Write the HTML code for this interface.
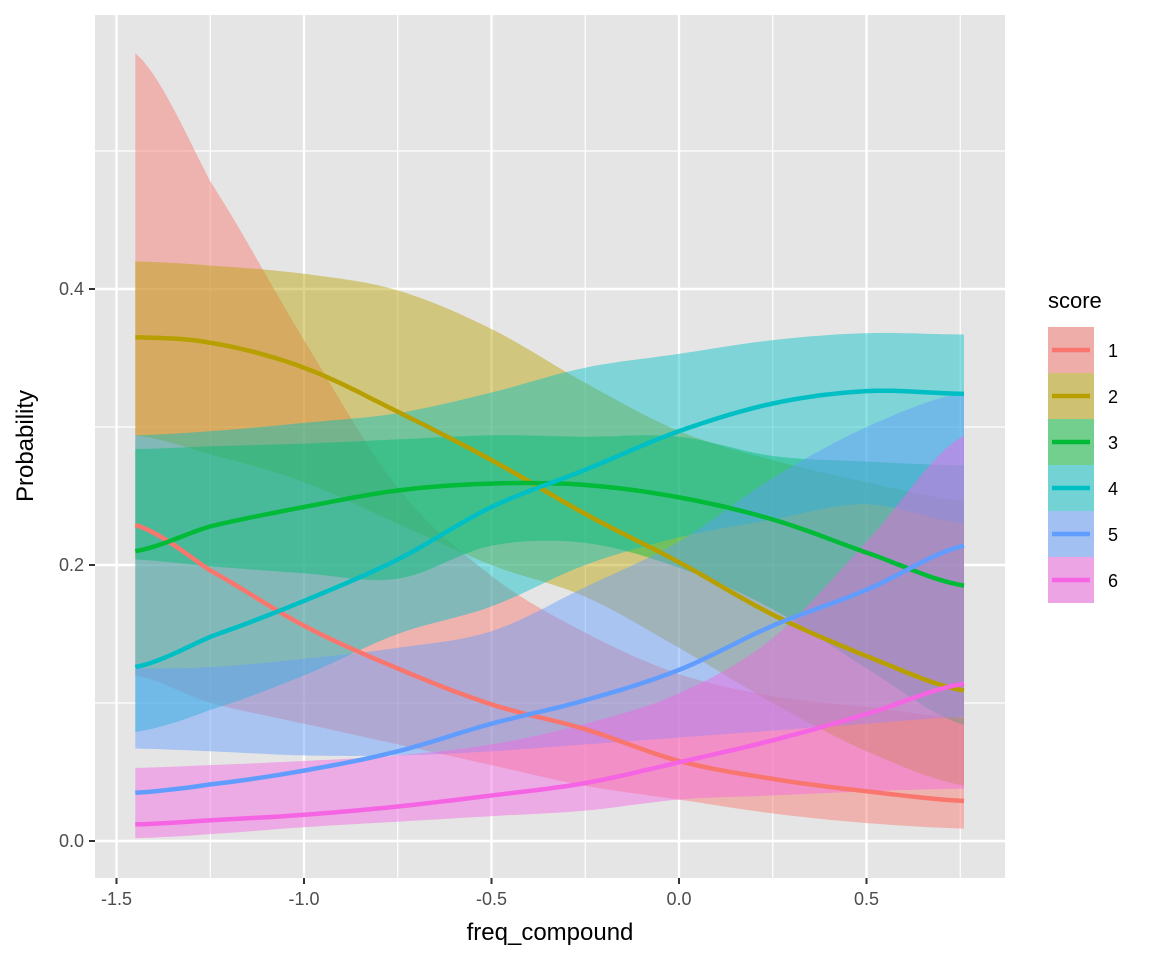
<!DOCTYPE html>
<html><head><meta charset="utf-8"><style>
body{margin:0;background:#fff;font-family:"Liberation Sans",Arial,sans-serif}
text{font-family:"Liberation Sans",Arial,sans-serif}
</style></head><body>
<svg id="chart" width="1152" height="960" xmlns="http://www.w3.org/2000/svg">
<rect width="1152" height="960" fill="#fff"/>
<rect x="95" y="15" width="910" height="863" fill="#e5e5e5"/>
<g id="grid"></g>
<g id="ribbons"></g>
<g id="lines"></g>
<g id="axes"></g>
<text x="550" y="940" font-size="24" text-anchor="middle" fill="#000">freq_compound</text>
<text transform="translate(33,446) rotate(-90)" font-size="24" text-anchor="middle" fill="#000">Probability</text>
<g id="legend"></g>
</svg>
<script>
const xs = [-1.45, -1.25, -1.0, -0.75, -0.5, -0.25, 0.0, 0.25, 0.5, 0.76];
const categories = ["1","2","3","4","5","6"];
const fit1 = [0.229, 0.196, 0.156, 0.125, 0.099, 0.081, 0.058, 0.045, 0.036, 0.029];
const up1  = [0.571, 0.478, 0.363, 0.256, 0.192, 0.151, 0.121, 0.105, 0.097, 0.089];
const lo1  = [0.120, 0.100, 0.085, 0.070, 0.055, 0.040, 0.030, 0.020, 0.013, 0.009];
const fit2 = [0.365, 0.361, 0.343, 0.311, 0.276, 0.237, 0.202, 0.164, 0.134, 0.109];
const up2  = [0.420, 0.417, 0.411, 0.399, 0.371, 0.332, 0.297, 0.276, 0.260, 0.246];
const lo2  = [0.294, 0.280, 0.260, 0.230, 0.200, 0.177, 0.140, 0.100, 0.065, 0.040];
const fit3 = [0.210, 0.228, 0.242, 0.254, 0.259, 0.258, 0.249, 0.233, 0.209, 0.185];
const up3  = [0.284, 0.286, 0.288, 0.291, 0.294, 0.293, 0.293, 0.279, 0.275, 0.272];
const lo3  = [0.204, 0.199, 0.194, 0.190, 0.214, 0.216, 0.198, 0.168, 0.125, 0.084];
const fit4 = [0.126, 0.148, 0.174, 0.204, 0.242, 0.269, 0.297, 0.317, 0.326, 0.324];
const up4  = [0.294, 0.297, 0.303, 0.310, 0.325, 0.343, 0.353, 0.363, 0.368, 0.367];
const lo4  = [0.079, 0.095, 0.120, 0.150, 0.170, 0.200, 0.220, 0.233, 0.244, 0.230];
const fit5 = [0.035, 0.041, 0.051, 0.065, 0.085, 0.102, 0.124, 0.156, 0.182, 0.214];
const up5  = [0.125, 0.126, 0.132, 0.140, 0.152, 0.184, 0.217, 0.263, 0.300, 0.325];
const lo5  = [0.067, 0.065, 0.062, 0.062, 0.065, 0.070, 0.075, 0.080, 0.085, 0.090];
const fit6 = [0.012, 0.015, 0.019, 0.025, 0.033, 0.042, 0.057, 0.073, 0.092, 0.114];
const up6  = [0.053, 0.055, 0.058, 0.062, 0.070, 0.085, 0.107, 0.147, 0.217, 0.294];
const lo6  = [0.002, 0.005, 0.010, 0.014, 0.018, 0.022, 0.030, 0.033, 0.036, 0.038];
const xTicks = [-1.5, -1.0, -0.5, 0.0, 0.5];
const xTickLabels = ["-1.5","-1.0","-0.5","0.0","0.5"];
const yTicks = [0.0, 0.2, 0.4];
const yTickLabels = ["0.0","0.2","0.4"];

const colors = ["#F8766D","#B79F00","#00BA38","#00BFC4","#619CFF","#F564E3"];
const fits=[fit1,fit2,fit3,fit4,fit5,fit6], ups=[up1,up2,up3,up4,up5,up6], los=[lo1,lo2,lo3,lo4,lo5,lo6];
const X = v => 679 + (v-0.0)*375;
const Y = v => 841 - v*1380;
const NS="http://www.w3.org/2000/svg";
function mk(tag,attrs,parent){const e=document.createElementNS(NS,tag);for(const k in attrs)e.setAttribute(k,attrs[k]);parent.appendChild(e);return e;}
function smooth(vals){
  const pts=[];
  for(let i=0;i<xs.length-1;i++){
    const p0=vals[Math.max(i-1,0)],p1=vals[i],p2=vals[i+1],p3=vals[Math.min(i+2,vals.length-1)];
    for(let t=0;t<1;t+=0.1){
      const t2=t*t,t3=t2*t;
      const v=0.5*((2*p1)+(-p0+p2)*t+(2*p0-5*p1+4*p2-p3)*t2+(-p0+3*p1-3*p2+p3)*t3);
      pts.push([X(xs[i]+(xs[i+1]-xs[i])*t),Y(v)]);
    }
  }
  pts.push([X(xs[xs.length-1]),Y(vals[vals.length-1])]);
  return pts;
}
const grid=document.getElementById('grid');
[0.1,0.3,0.5].forEach(v=>{const l=mk('line',{x1:95,x2:1005,y1:Y(v),y2:Y(v),stroke:'#fff','stroke-width':1.2},grid);});
[-1.25,-0.75,-0.25,0.25,0.75].forEach(v=>{const l=mk('line',{x1:X(v),x2:X(v),y1:15,y2:878,stroke:'#fff','stroke-width':1.2},grid);});
yTicks.forEach(v=>{const l=mk('line',{x1:95,x2:1005,y1:Y(v),y2:Y(v),stroke:'#fff','stroke-width':2.4},grid);});
xTicks.forEach(v=>{const l=mk('line',{x1:X(v),x2:X(v),y1:15,y2:878,stroke:'#fff','stroke-width':2.4},grid);});
const rib=document.getElementById('ribbons'), lin=document.getElementById('lines');
for(let s=0;s<6;s++){
  const u=smooth(ups[s]), d=smooth(los[s]).reverse();
  const pts=u.concat(d).map(p=>p[0].toFixed(1)+','+p[1].toFixed(1)).join(' ');
  const r=mk('polygon',{points:pts,fill:colors[s],'fill-opacity':0.45},rib);
  
  
}
for(let s=0;s<6;s++){
  const pts=smooth(fits[s]).map(p=>p[0].toFixed(1)+','+p[1].toFixed(1)).join(' ');
  const l=mk('polyline',{points:pts,fill:'none',stroke:colors[s],'stroke-width':4.5},lin);
  
  
}
const ax=document.getElementById('axes');
xTicks.forEach((v,i)=>{
  mk('line',{x1:X(v),x2:X(v),y1:878,y2:884,stroke:'#333','stroke-width':2},ax);
  const t=mk('text',{x:X(v),y:905,'font-size':18,'text-anchor':'middle',fill:'#4d4d4d'},ax);
  t.textContent=xTickLabels[i];
  
  
});
yTicks.forEach((v,i)=>{
  mk('line',{x1:89,x2:95,y1:Y(v),y2:Y(v),stroke:'#333','stroke-width':2},ax);
  const t=mk('text',{x:84,y:Y(v)+6,'font-size':18,'text-anchor':'end',fill:'#4d4d4d'},ax);
  t.textContent=yTickLabels[i];
  
  
});
const lg=document.getElementById('legend');
const lt=mk('text',{x:1048,y:308,'font-size':22,fill:'#000'},lg);
lt.textContent='score';


categories.forEach((c,i)=>{
  const y0=327+i*46;
  const g=mk('g',{},lg);
  
  
  mk('rect',{x:1048,y:y0,width:46,height:46,fill:'#e5e5e5'},g);
  mk('rect',{x:1048,y:y0,width:46,height:46,fill:colors[i],'fill-opacity':0.5},g);
  mk('line',{x1:1052,x2:1090,y1:y0+23,y2:y0+23,stroke:colors[i],'stroke-width':4.5},g);
  const t=mk('text',{x:1108,y:y0+30,'font-size':18,fill:'#000'},g);
  t.textContent=c;
});
</script>
</body></html>
